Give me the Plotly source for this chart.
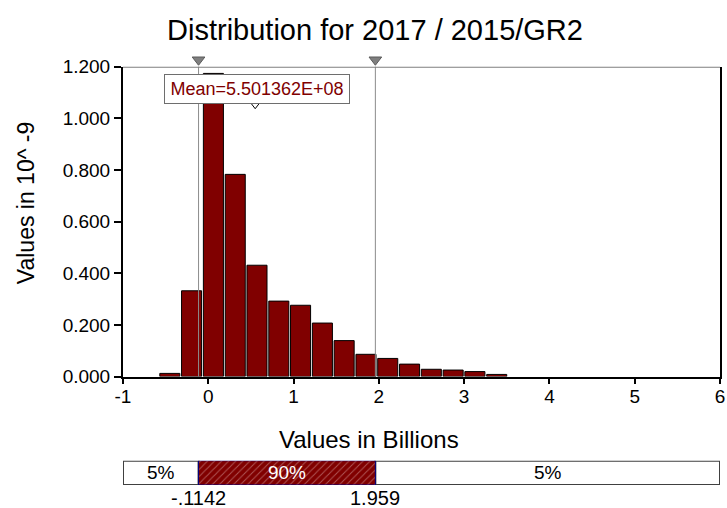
import plotly.graph_objects as go

# ---------------- data ----------------
bin_centers = [-0.451, -0.196, 0.060, 0.316, 0.571, 0.827, 1.082, 1.338,
               1.593, 1.849, 2.104, 2.360, 2.615, 2.871, 3.126, 3.382]
densities = [0.012, 0.332, 1.174, 0.783, 0.431, 0.292, 0.276, 0.207,
             0.139, 0.086, 0.070, 0.048, 0.028, 0.025, 0.019, 0.008]
p_low = -0.1142
p_high = 1.959
mean_val = 0.5501362
mean_label = "Mean=5.501362E+08"
p_low_label = "-.1142"
p_high_label = "1.959"
band_labels = ["5%", "90%", "5%"]
x_ticks = [-1, 0, 1, 2, 3, 4, 5, 6]
y_ticks = [0.0, 0.2, 0.4, 0.6, 0.8, 1.0, 1.2]
X_MIN, X_MAX = -1, 6
Y_MAX = 1.2

FONT = "Liberation Sans, Arial, sans-serif"
RED = "#800000"

W, H = 727, 508
ML, MR, MT, MB = 123, 7, 49, 23
PW, PH = W - ML - MR, H - MT - MB


def px(xp):
    return (xp - ML) / PW


def py(yp):
    return (H - MB - yp) / PH


fig = go.Figure()

# histogram bars
fig.add_trace(go.Bar(
    x=bin_centers, y=densities, width=0.235,
    marker=dict(color=RED, line=dict(color="#000000", width=1)),
    xaxis="x", yaxis="y", hoverinfo="skip", showlegend=False,
))

# mean triangle
fig.add_trace(go.Scatter(
    x=[mean_val], y=[Y_MAX * 0.8773], mode="markers",
    marker=dict(symbol="triangle-down", size=8, color="#ffffff",
                line=dict(color="#000000", width=1)),
    cliponaxis=False, xaxis="x", yaxis="y", showlegend=False, hoverinfo="skip",
))

# bottom band: white outer segments
fig.add_trace(go.Bar(
    y=[0, 0], x=[p_low - X_MIN, X_MAX - p_high], base=[X_MIN, p_high],
    orientation="h", width=1,
    marker=dict(color="#ffffff", line=dict(color="#404040", width=2)),
    text=[band_labels[0], band_labels[2]], textposition="inside",
    insidetextanchor="middle", constraintext="none", textangle=0,
    textfont=dict(family=FONT, size=19, color="#000000"),
    xaxis="x2", yaxis="y2", showlegend=False, hoverinfo="skip",
))
# bottom band: red hatched middle
fig.add_trace(go.Bar(
    y=[0], x=[p_high - p_low], base=[p_low],
    orientation="h", width=1,
    marker=dict(color=RED, line=dict(color="#000080", width=1),
                pattern=dict(shape="/", bgcolor=RED, fgcolor="#dba8a8",
                             size=5, solidity=0.2)),
    text=[band_labels[1]], textposition="inside",
    insidetextanchor="middle", constraintext="none", textangle=0,
    textfont=dict(family=FONT, size=19, color="#ffffff"),
    xaxis="x2", yaxis="y2", showlegend=False, hoverinfo="skip",
))

# percentile vertical lines
for p in (p_low, p_high):
    fig.add_shape(type="line", xref="x", yref="y domain", x0=p, x1=p, y0=0, y1=1,
                  line=dict(color="#8c8c8c", width=1), layer="above")
# top frame line (gray)
fig.add_shape(type="line", xref="x domain", yref="y", x0=0, x1=1, y0=Y_MAX, y1=Y_MAX,
              line=dict(color="#7f7f7f", width=2), layer="above")

# percentile marker triangles on top (own thin strip axis above the plot)
fig.add_trace(go.Scatter(
    x=[p_low, p_high], y=[0, 0], mode="markers",
    marker=dict(symbol="triangle-down", size=11, color="#7f7f7f",
                line=dict(color="#5a5a5a", width=1)),
    cliponaxis=False, xaxis="x", yaxis="y3", showlegend=False, hoverinfo="skip",
))

annotations = [
    dict(text=mean_label, x=mean_val, y=Y_MAX * 0.879, xref="x", yref="y",
         xanchor="center", yanchor="bottom", xshift=2, showarrow=False,
         font=dict(family=FONT, size=18, color=RED),
         bgcolor="#ffffff", bordercolor="#6e6e6e", borderwidth=1,
         width=182, height=26),
    dict(text="Values in 10^ -9", x=px(25.7), y=py(202.5), xref="paper", yref="paper",
         textangle=-90, showarrow=False, xanchor="center", yanchor="middle",
         font=dict(family=FONT, size=23, color="#000000")),
    dict(text="Values in Billions", x=px(368.5), y=py(439), xref="paper", yref="paper",
         showarrow=False, xanchor="center", yanchor="middle",
         font=dict(family=FONT, size=24, color="#000000")),
    dict(text=p_low_label, x=p_low, y=py(498), xref="x", yref="paper",
         showarrow=False, xanchor="center", yanchor="middle",
         font=dict(family=FONT, size=20, color="#000000")),
    dict(text=p_high_label, x=p_high, y=py(498), xref="x", yref="paper",
         showarrow=False, xanchor="center", yanchor="middle",
         font=dict(family=FONT, size=20, color="#000000")),
]

fig.update_layout(
    width=W, height=H,
    margin=dict(l=ML, r=MR, t=MT, b=MB, pad=0, autoexpand=False),
    paper_bgcolor="#ffffff", plot_bgcolor="#ffffff",
    barmode="overlay", showlegend=False,
    font=dict(family=FONT, color="#000000"),
    title=dict(text="Distribution for 2017 / 2015/GR2", x=375 / W, xref="container",
               xanchor="center", y=1 - 30 / H, yref="container", yanchor="middle",
               automargin=False,
               font=dict(family=FONT, size=29, color="#000000")),
    xaxis=dict(range=[X_MIN, X_MAX], tickvals=x_ticks, ticktext=[str(t) for t in x_ticks],
               showgrid=False, zeroline=False, showline=True, linecolor="#000000", linewidth=2,
               ticks="outside", ticklen=5, tickwidth=1.5, tickcolor="#000000", automargin=False,
               ticklabelstandoff=-3,
               tickfont=dict(family=FONT, size=19, color="#000000"), anchor="y"),
    yaxis=dict(range=[0, Y_MAX], tickvals=y_ticks, tickformat=".3f",
               domain=[py(376.5), py(66.7)], automargin=False,
               showgrid=False, zeroline=False, showline=True, linecolor="#000000", linewidth=2,
               mirror=True,
               ticks="outside", ticklen=7, tickwidth=1.5, tickcolor="#000000",
               tickfont=dict(family=FONT, size=19, color="#000000"), anchor="x"),
    xaxis2=dict(range=[X_MIN, X_MAX], visible=False, anchor="y2", automargin=False),
    yaxis2=dict(range=[-0.5, 0.5], domain=[0, py(460.7)], visible=False, anchor="x2",
                automargin=False),
    yaxis3=dict(range=[-1, 1], domain=[py(69.5), min(1.0, py(50))], visible=False,
                anchor="x", automargin=False),
    annotations=annotations,
)

fig.write_html("out.html", config={"displayModeBar": False},
               post_script="document.body.style.margin='0';document.body.style.overflow='hidden';")
